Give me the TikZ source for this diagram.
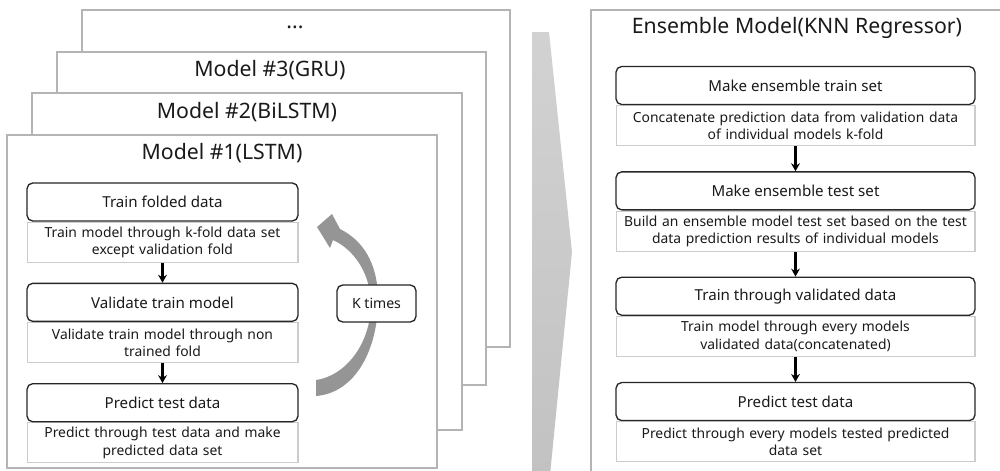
\documentclass[tikz,border=0pt]{standalone}
\usepackage{fontspec}
\setmainfont{Noto Sans}
\usetikzlibrary{positioning,arrows.meta}
\pgfdeclarelayer{frames}
\pgfdeclarelayer{notes}
\pgfsetlayers{frames,notes,main}
\definecolor{framegray}{HTML}{B4B4B4}
\definecolor{notegray}{HTML}{CCCCCC}
\definecolor{loopgray}{HTML}{959595}
\definecolor{wedgetop}{HTML}{D2D2D2}
\definecolor{wedgebot}{HTML}{C2C2C2}
\definecolor{textgray}{HTML}{1A1A1A}
\begin{document}
\begin{tikzpicture}[x=0.02cm, y=-0.02cm,
    modelframe/.style={draw=framegray, line width=1.1pt, fill=white},
    frametitle/.style={font=\fontsize{12.1}{14}\selectfont, text=textgray},
    stepbox/.style={draw=black!85, rounded corners=3.2pt, fill=white, line width=0.75pt,
        font=\fontsize{8.6}{10}\selectfont, text=textgray, minimum height=0.76cm, inner sep=0pt},
    stepnote/.style={draw=notegray, fill=white, line width=0.6pt, align=center,
        font=\fontsize{7.9}{9.8}\selectfont, text=textgray, minimum height=0.8cm,
        inner xsep=0.11cm, inner ysep=0pt},
    leftbox/.style={stepbox, minimum width=5.42cm},
    leftnote/.style={stepnote, text width=5.2cm},
    rightbox/.style={stepbox, minimum width=7.18cm},
    rightnote/.style={stepnote, text width=6.96cm},
    flow/.style={-{Stealth[length=4.5pt,width=5pt]}, line width=1.2pt}]

    \useasboundingbox (0,0) rectangle (1000,470);

    % stacked model frames
    \begin{pgfonlayer}{frames}
        \draw[modelframe] (82,10) rectangle (510,347);
        \draw[modelframe] (57,52) rectangle (486,385);
        \draw[modelframe] (32,93) rectangle (462,430);
        \draw[modelframe] (7,135) rectangle (437,468);
        \draw[modelframe] (591,10) rectangle (1010,480);
    \end{pgfonlayer}
    \node[frametitle] (m4) at (295,27) {...};
    \node[frametitle] (m3) at (270,70) {Model \#3(GRU)};
    \node[frametitle] (m2) at (247,112) {Model \#2(BiLSTM)};
    \node[frametitle] (m1) at (222,153) {Model \#1(LSTM)};
    \node[frametitle] (ens) at (797,28) {Ensemble Model(KNN Regressor)};

    % middle wedge
    \shade[top color=wedgetop, bottom color=wedgebot]
        (532,32) -- (549,32) -- (572,252) -- (550,475) -- (532,475) -- cycle;

    % left column
    \node[leftbox] (train) at (162.5,202) {Train folded data};
    \begin{pgfonlayer}{notes}
        \node[leftnote, below=0pt of train] (trainnote) {Train model through k-fold data set\\except validation fold};
    \end{pgfonlayer}
    \node[leftbox, below=0.4cm of trainnote] (valid) {Validate train model};
    \begin{pgfonlayer}{notes}
        \node[leftnote, below=0pt of valid] (validnote) {Validate train model through non\\trained fold};
    \end{pgfonlayer}
    \node[leftbox, below=0.4cm of validnote] (pred) {Predict test data};
    \begin{pgfonlayer}{notes}
        \node[leftnote, below=0pt of pred] (prednote) {Predict through test data and make\\predicted data set};
    \end{pgfonlayer}
    \draw[flow] (trainnote) -- (valid);
    \draw[flow] (validnote) -- (pred);

    % k-fold loop
    \fill[loopgray] (317,227) -- (332,214) -- (340,229)
        .. controls (362,240) and (378,262) .. (378,300)
        .. controls (378,350) and (355,393) .. (316,396) -- (316,380)
        .. controls (345,376) and (370,345) .. (371,305)
        .. controls (371,275) and (355,250) .. (333,240) -- (330,248) -- cycle;
    \node[stepbox, font=\fontsize{8}{10}\selectfont, minimum width=1.58cm, minimum height=0.74cm] (ktimes) at (376.5,303.5) {K times};

    % right column
    \node[rightbox] (enstrain) at (795.5,85.5) {Make ensemble train set};
    \begin{pgfonlayer}{notes}
        \node[rightnote, below=0pt of enstrain] (enstrainnote) {Concatenate prediction data from validation data\\of individual models k-fold};
    \end{pgfonlayer}
    \node[rightbox, below=0.5cm of enstrainnote] (enstest) {Make ensemble test set};
    \begin{pgfonlayer}{notes}
        \node[rightnote, below=0pt of enstest] (enstestnote) {Build an ensemble model test set based on the test\\data prediction results of individual models};
    \end{pgfonlayer}
    \node[rightbox, below=0.5cm of enstestnote] (ensfit) {Train through validated data};
    \begin{pgfonlayer}{notes}
        \node[rightnote, below=0pt of ensfit] (ensfitnote) {Train model through every models\\validated data(concatenated)};
    \end{pgfonlayer}
    \node[rightbox, below=0.5cm of ensfitnote] (enspred) {Predict test data};
    \begin{pgfonlayer}{notes}
        \node[rightnote, below=0pt of enspred] (ensprednote) {Predict through every models tested predicted\\data set};
    \end{pgfonlayer}
    \draw[flow] (enstrainnote) -- (enstest);
    \draw[flow] (enstestnote) -- (ensfit);
    \draw[flow] (ensfitnote) -- (enspred);
\end{tikzpicture}
\end{document}
